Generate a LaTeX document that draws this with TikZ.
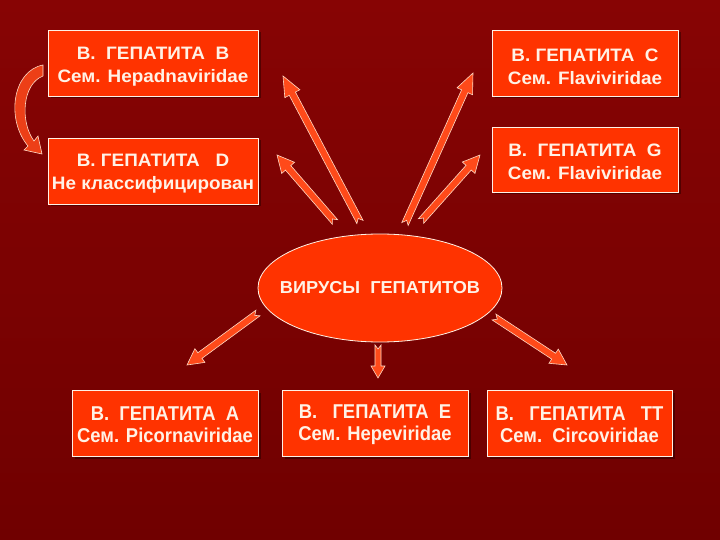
\documentclass[tikz,border=0pt]{standalone}
\usepackage{fontspec}
\setmainfont{Liberation Sans}
\newfontfamily\widefont[FakeStretch=1.05]{Liberation Sans}
\newfontfamily\condfont[FakeStretch=0.92]{Liberation Sans}
\usetikzlibrary{shapes.geometric,calc,shadows}
\definecolor{bgtop}{HTML}{870404}
\definecolor{bgbot}{HTML}{700000}
\definecolor{boxfill}{HTML}{FF3300}
\definecolor{txtcol}{HTML}{FFF2E6}
\definecolor{arrfill}{HTML}{FF4A1A}
\definecolor{arredge}{HTML}{FFD9C4}
\newdimen\bax \newdimen\bay \newdimen\bbx \newdimen\bby
\newcommand\blockarr[5]{%
  \pgfextractx{\bax}{\pgfpointanchor{#1}{center}}%
  \pgfextracty{\bay}{\pgfpointanchor{#1}{center}}%
  \pgfextractx{\bbx}{\pgfpointanchor{#2}{center}}%
  \pgfextracty{\bby}{\pgfpointanchor{#2}{center}}%
  \pgfmathsetmacro\baang{atan2(\bby-\bay,\bbx-\bax)}%
  \pgfmathsetmacro\balen{veclen(\bbx-\bax,\bby-\bay)}%
  \begin{scope}[shift={(\the\bax,\the\bay)}, rotate=\baang]
    \draw[barrow] (0,#3) -- (\balen-#5,#3) -- (\balen-#5,#4) -- (\balen,0)
      -- (\balen-#5,-#4) -- (\balen-#5,-#3) -- (0,-#3) -- (4,0) -- cycle;
  \end{scope}}
\tikzset{
  box/.style={draw=txtcol, line width=0.8pt, fill=boxfill, minimum height=66pt,
    inner sep=0pt,
    drop shadow={shadow xshift=2.5pt, shadow yshift=-2.5pt, opacity=0.35, fill=black}},
  toptext/.style={align=center, text=txtcol, inner sep=0pt,
    font=\widefont\bfseries\fontsize{18}{23}\selectfont},
  lowtext/.style={toptext, font=\condfont\bfseries\fontsize{20}{22.5}\selectfont},
  hub/.style={ellipse, draw=txtcol, line width=0.8pt, fill=boxfill,
    minimum width=244pt, minimum height=108pt, inner sep=0pt},
  hubtext/.style={text=txtcol, inner sep=0pt,
    font=\widefont\bfseries\fontsize{17.3}{20}\selectfont},
  barrow/.style={fill=arrfill, draw=arredge, line width=0.6pt, line join=miter},
}
\begin{document}
\begin{tikzpicture}[x=1pt,y=-1pt]
  \shade[top color=bgtop, bottom color=bgbot] (0,0) rectangle (720,540);
  \useasboundingbox (0,0) rectangle (720,540);

  \node[box, minimum width=210pt] (B) at (153,63) {};
  \node[toptext] (Bt) at ([yshift=-3.5pt]B.center) {В.~~ГЕПАТИТА~~В\\Сем. Hepadnaviridae};
  \node[box, minimum width=186pt] (C) at (585,63) {};
  \node[toptext] (Ct) at ([yshift=-3.5pt]C.center) {В. ГЕПАТИТА~~C\\Сем. Flaviviridae};
  \node[box, minimum width=186pt, minimum height=65pt] (G) at (585,159.5) {};
  \node[toptext] (Gt) at ([yshift=-2.5pt]G.center) {В.~~ГЕПАТИТА~~G\\Сем. Flaviviridae};
  \node[box, minimum width=210pt] (D) at (153,171) {};
  \node[toptext] (Dt) at ([yshift=-2.5pt]D.center) {В. ГЕПАТИТА~~~D\\Не классифицирован};
  \node[hub] (V) at (380,288) {};
  \node[hubtext] (Vt) at (V.center) {ВИРУСЫ~~ГЕПАТИТОВ};
  \node[box, minimum width=186pt] (A) at (165,423) {};
  \node[lowtext] (At) at ([yshift=-1.5pt]A.center) {В.~~ГЕПАТИТА~~А\\Сем. Picornaviridae};
  \node[box, minimum width=186pt] (E) at (375,423) {};
  \node[lowtext] (Et) at ([yshift=-1.5pt]E.center) {В.~~~ГЕПАТИТА~~Е\\Сем. Hepeviridae};
  \node[box, minimum width=185pt] (TT) at (579.5,423) {};
  \node[lowtext] (TTt) at ([yshift=-1.5pt]TT.center) {В.~~~ГЕПАТИТА~~~TT\\Сем.~~Circoviridae};

  % block arrows
  \coordinate (a1t) at (360,222); \coordinate (a1h) at (283,76);
  \coordinate (a2t) at (335,222); \coordinate (a2h) at (277,155);
  \coordinate (a3t) at (405,224); \coordinate (a3h) at (473,73);
  \coordinate (a4t) at (421,221); \coordinate (a4h) at (480,155);
  \coordinate (a5t) at (258,313); \coordinate (a5h) at (187,365);
  \coordinate (a6t) at (378,345); \coordinate (a6h) at (378,378);
  \coordinate (a7t) at (494,317); \coordinate (a7h) at (567,365);
  \blockarr{a1t}{a1h}{3.5}{8.5}{20}
  \blockarr{a2t}{a2h}{3.5}{8.5}{17}
  \blockarr{a3t}{a3h}{3.5}{8.5}{20}
  \blockarr{a4t}{a4h}{3.5}{8.5}{17}
  \blockarr{a5t}{a5h}{3.5}{8.5}{16}
  \blockarr{a6t}{a6h}{3}{7}{12}
  \blockarr{a7t}{a7h}{3.5}{8.5}{16}

  % curved arrow from B to D
  \draw[fill=arrfill!85!bgtop, draw=arredge, line width=0.6pt]
    (43,65) .. controls (12,71) and (6,120) .. (28,146)
    -- (24,150) -- (42,154) -- (38,136) -- (34,141)
    .. controls (20,122) and (22,84) .. (43,76) -- cycle;
\end{tikzpicture}
\end{document}
